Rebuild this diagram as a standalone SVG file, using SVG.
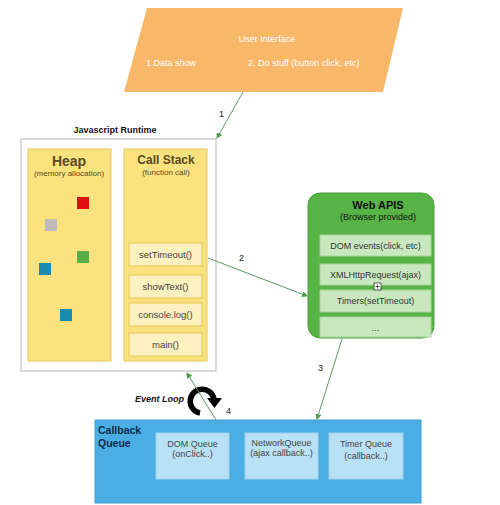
<svg xmlns="http://www.w3.org/2000/svg" width="500" height="505" viewBox="0 0 500 505">
<defs>
<marker id="ah" markerWidth="6" markerHeight="6" refX="5" refY="3" orient="auto" markerUnits="userSpaceOnUse">
<path d="M0,0 L6,3 L0,6 z" fill="#4a9a4a"/>
</marker>
<style>
text{font-family:"Liberation Sans",Arial,sans-serif;}
.w{fill:#ffffff;font-size:9px;}
.lbl{fill:#222;font-size:9px;}
.conn{stroke:#5a9a6a;stroke-width:1;fill:none;marker-end:url(#ah);}
.col{fill:#fbe27f;stroke:#e7c95a;stroke-width:1;}
.item{fill:#fdf1bf;stroke:#e3c75a;stroke-width:1;}
.itxt{fill:#444;font-size:9.5px;text-anchor:middle;}
.api{fill:#c9e8bf;stroke:#a7d49a;stroke-width:1;}
.atxt{fill:#333;font-size:9px;text-anchor:middle;}
.q{fill:#b9e1f6;stroke:#9fd0ee;stroke-width:1;}
.qtxt{fill:#444;font-size:9px;text-anchor:middle;}
</style>
</defs>
<g id="ui">
<polygon points="147,8 403,8 383,92 124,92" fill="#f9b76a"/>
<text class="w" x="267" y="42" text-anchor="middle">User Interface</text>
<text class="w" x="146" y="66">1.Data show</text>
<text class="w" x="248" y="66">2. Do stuff (button click, etc)</text>
</g>
<g id="runtime">
<text x="115" y="133" text-anchor="middle" font-size="9" font-weight="bold" fill="#111">Javascript Runtime</text>
<rect x="21" y="139" width="195" height="232" fill="#ffffff" stroke="#b5b5b5" stroke-width="1"/>
</g>
<g id="heap">
<rect class="col" x="28" y="149" width="83" height="212"/>
<text x="69" y="166" text-anchor="middle" font-size="14" font-weight="bold" fill="#5a4a20">Heap</text>
<text x="69" y="176" text-anchor="middle" font-size="8" fill="#5a4a20">(memory allocation)</text>
<rect x="77" y="197" width="12" height="12" fill="#e01010"/>
<rect x="45" y="219" width="12" height="12" fill="#bdbdbd"/>
<rect x="77" y="251" width="12" height="12" fill="#5aae4a"/>
<rect x="39" y="263" width="12" height="12" fill="#1a8ab0"/>
<rect x="60" y="309" width="12" height="12" fill="#1a8ab0"/>
</g>
<g id="callstack">
<rect class="col" x="124" y="149" width="83" height="212"/>
<text x="166" y="164" text-anchor="middle" font-size="12" font-weight="bold" fill="#5a4a20">Call Stack</text>
<text x="166" y="175" text-anchor="middle" font-size="8" fill="#5a4a20">(function call)</text>
<rect class="item" x="129" y="243" width="73" height="23"/>
<text class="itxt" x="165.5" y="258">setTimeout()</text>
<rect class="item" x="129" y="275" width="73" height="23"/>
<text class="itxt" x="165.5" y="290">showText()</text>
<rect class="item" x="129" y="303" width="73" height="23"/>
<text class="itxt" x="165.5" y="318">console.log()</text>
<rect class="item" x="129" y="333" width="73" height="23"/>
<text class="itxt" x="165.5" y="348">main()</text>
</g>
<g id="webapis">
<rect x="308" y="193" width="126" height="145" rx="12" ry="12" fill="#58b447" stroke="#4aa03c" stroke-width="1"/>
<text x="378" y="209" text-anchor="middle" font-size="11" font-weight="bold" fill="#111">Web APIS</text>
<text x="378" y="220" text-anchor="middle" font-size="9" fill="#111">(Browser provided)</text>
<rect class="api" x="320" y="235" width="111" height="21"/>
<text class="atxt" x="375.5" y="249">DOM events(click, etc)</text>
<rect class="api" x="320" y="264" width="111" height="21"/>
<text class="atxt" x="375.5" y="278">XMLHttpRequest(ajax)</text>
<rect class="api" x="320" y="290" width="111" height="22"/>
<text class="atxt" x="375.5" y="304">Timers(setTimeout)</text>
<rect class="api" x="320" y="317" width="111" height="20"/>
<text class="atxt" x="375.5" y="331" fill="#777">...</text>
<rect x="374" y="283" width="7" height="7" fill="#ffffff" stroke="#333" stroke-width="0.8"/>
<path d="M377.5,284.5 V288.5 M375.5,286.5 H379.5" stroke="#333" stroke-width="0.8"/>
</g>
<g id="callbackqueue">
<rect x="95" y="420" width="326" height="83" fill="#4aaee2" stroke="#3f9ed0" stroke-width="1"/>
<text x="98" y="434" font-size="10.5" font-weight="bold" fill="#0d2a4a">Callback</text>
<text x="98" y="447" font-size="10.5" font-weight="bold" fill="#0d2a4a">Queue</text>
<rect class="q" x="156" y="433" width="73" height="46"/>
<text class="qtxt" x="192.5" y="447">DOM Queue</text>
<text class="qtxt" x="192.5" y="457" font-size="8">(onClick..)</text>
<rect class="q" x="245" y="433" width="73" height="46"/>
<text class="qtxt" x="281.5" y="446" font-size="8.5">NetworkQueue</text>
<text class="qtxt" x="281.5" y="456" font-size="8">(ajax callback..)</text>
<rect class="q" x="329" y="433" width="74" height="46"/>
<text class="qtxt" x="366" y="447">Timer Queue</text>
<text class="qtxt" x="366" y="459" font-size="10">(callback..)</text>
</g>
<g id="eventloop">
<text x="135" y="402" font-size="9" font-weight="bold" font-style="italic" fill="#111">Event Loop</text>
<path d="M200,413 A12,12 0 1 1 214,399" fill="none" stroke="#000" stroke-width="5.5"/>
<polygon points="207,398 222,398 214.5,408" fill="#000"/>
</g>
<g id="connectors">
<line class="conn" x1="243" y1="92" x2="217" y2="138"/>
<text class="lbl" x="219" y="117">1</text>
<line class="conn" x1="208" y1="258" x2="307" y2="296"/>
<text class="lbl" x="239" y="261">2</text>
<line class="conn" x1="342" y1="339" x2="317" y2="419"/>
<text class="lbl" x="318" y="371">3</text>
<line class="conn" x1="216" y1="420" x2="187" y2="373"/>
<text class="lbl" x="226" y="414">4</text>
</g>
</svg>
